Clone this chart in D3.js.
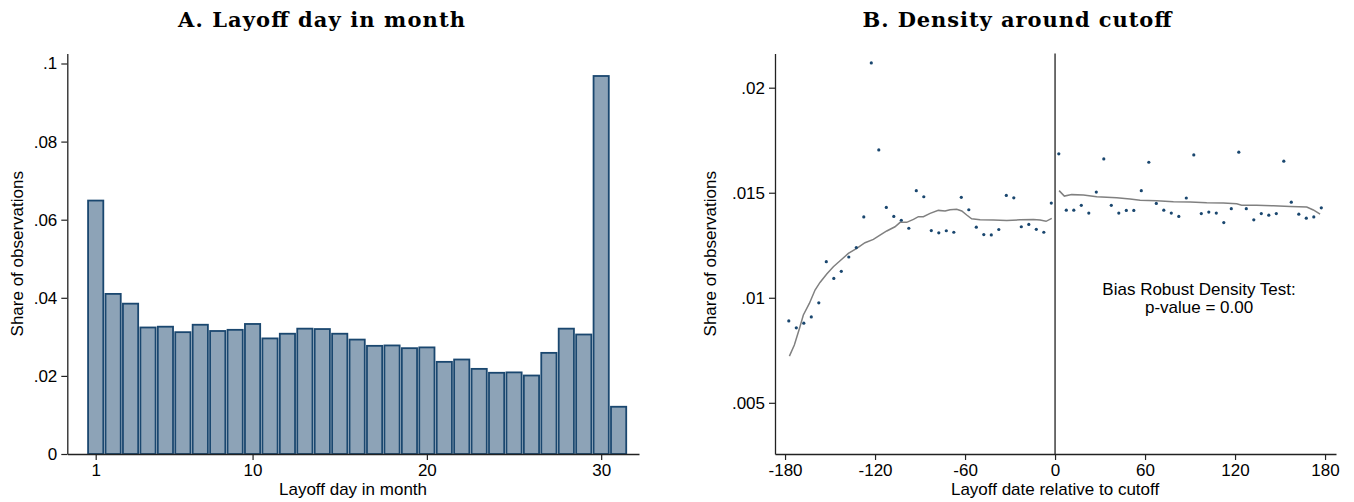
<!DOCTYPE html>
<html>
<head>
<meta charset="utf-8">
<script src="https://cdn.jsdelivr.net/npm/d3@7"></script>
<style>
  html, body { margin: 0; padding: 0; background: #fff; }
  svg { display: block; }
  .tick text { font-family: "Liberation Sans", Arial, sans-serif; font-size: 17px; fill: #000; }
  .tick line { stroke: #222; stroke-width: 1.2; }
  .domain { stroke: #222; stroke-width: 1.3; }
  .lbl { font-family: "Liberation Sans", Arial, sans-serif; font-size: 17px; fill: #000; }
  .ttl { font-family: "DejaVu Serif", "Liberation Serif", serif; font-weight: bold; font-size: 21px; fill: #000; }
</style>
</head>
<body>
<script>
// ---------- Panel A: share of layoffs by calendar day ----------
const days = [1,2,3,4,5,6,7,8,9,10,11,12,13,14,15,16,17,18,19,20,21,22,23,24,25,26,27,28,29,30,31];
const dayShare = [0.0649,0.0410,0.0385,0.0324,0.0326,0.0312,0.0331,0.0315,0.0318,0.0333,
                  0.0296,0.0308,0.0321,0.0320,0.0308,0.0293,0.0277,0.0278,0.0271,0.0273,
                  0.0236,0.0242,0.0218,0.0208,0.0209,0.0201,0.0259,0.0321,0.0306,0.0968,0.0121];
const dayTicks = [1, 10, 20, 30];
const shareTicksA = [0, 0.02, 0.04, 0.06, 0.08, 0.1];
const shareTickLabelsA = ["0", ".02", ".04", ".06", ".08", ".1"];

// ---------- Panel B: 5-day bins around the cutoff ----------
const binsBefore = [-177.5,-172.5,-167.5,-162.5,-157.5,-152.5,-147.5,-142.5,-137.5,-132.5,-127.5,-122.5,
                    -117.5,-112.5,-107.5,-102.5,-97.5,-92.5,-87.5,-82.5,-77.5,-72.5,-67.5,-62.5,
                    -57.5,-52.5,-47.5,-42.5,-37.5,-32.5,-27.5,-22.5,-17.5,-12.5,-7.5,-2.5];
const shareBefore = [0.00890,0.00857,0.00879,0.00909,0.00976,0.01172,0.01092,0.01126,0.01194,0.01239,0.01385,0.02118,
                     0.01704,0.01430,0.01387,0.01369,0.01331,0.01510,0.01481,0.01320,0.01309,0.01319,0.01312,0.01478,
                     0.01419,0.01336,0.01301,0.01299,0.01325,0.01487,0.01476,0.01338,0.01349,0.01326,0.01312,0.01451];
const binsAfter = [2.5,7.5,12.5,17.5,22.5,27.5,32.5,37.5,42.5,47.5,52.5,57.5,
                   62.5,67.5,72.5,77.5,82.5,87.5,92.5,97.5,102.5,107.5,112.5,117.5,
                   122.5,127.5,132.5,137.5,142.5,147.5,152.5,157.5,162.5,167.5,172.5,177.5];
const shareAfter = [0.01685,0.01417,0.01417,0.01440,0.01403,0.01503,0.01661,0.01440,0.01403,0.01416,0.01416,0.01510,
                    0.01645,0.01449,0.01417,0.01403,0.01387,0.01475,0.01680,0.01401,0.01408,0.01403,0.01358,0.01424,
                    0.01693,0.01424,0.01371,0.01401,0.01393,0.01401,0.01650,0.01455,0.01398,0.01379,0.01385,0.01428];

// Local polynomial density fits on each side of the cutoff
const fitBeforeX = [-177.1,-173.8,-170.4,-167.8,-163.8,-160,-156.7,-152.2,-147.8,-143.3,-137.8,-132.2,-126.7,
                    -121.1,-116.7,-112.2,-106.7,-103.3,-98.9,-94.4,-91.1,-87.8,-83.3,-77.8,-73.3,-70,-65.6,
                    -62.2,-58.9,-55.6,-50,-41.1,-32.2,-23.3,-14.4,-10,-6,-2.2];
const fitBeforeY = [0.00722,0.00775,0.00854,0.00918,0.00973,0.01037,0.01073,0.01113,0.01148,0.01176,0.01211,0.01235,0.01262,
                    0.01278,0.01298,0.01318,0.01338,0.01359,0.01359,0.01373,0.01386,0.01386,0.01402,0.01416,0.01413,0.01419,0.01421,
                    0.01413,0.01394,0.01376,0.01371,0.01370,0.01368,0.01371,0.01373,0.01370,0.01364,0.01378];
const fitAfterX = [2.7,6.2,11.1,18.9,27.8,41.1,50,56.7,67.8,78.9,90,101.1,112.2,121.1,124.4,134.4,145.6,156.7,167.8,172.2,176.7];
const fitAfterY = [0.01510,0.01484,0.01491,0.01489,0.01481,0.01476,0.01470,0.01464,0.01462,0.01457,0.01456,0.01452,
                   0.01451,0.01448,0.01441,0.01441,0.01438,0.01435,0.01432,0.01418,0.01398];

const dateTicks = [-180, -120, -60, 0, 60, 120, 180];
const shareTicksB = [0.005, 0.01, 0.015, 0.02];
const shareTickLabelsB = [".005", ".01", ".015", ".02"];

const testLines = ["Bias Robust Density Test:", "p-value = 0.00"];

// ---------- drawing ----------
const W = 1354, H = 502;
const navy = "rgb(26,71,111)";
const barFill = "rgb(141,163,183)";
const fitGray = "rgb(128,128,128)";
const plainInt = d => String(d);   // hyphen-minus, as in the printed figure

const svg = d3.select("body").append("svg")
  .attr("width", W).attr("height", H)
  .attr("viewBox", `0 0 ${W} ${H}`);
svg.append("rect").attr("width", W).attr("height", H).attr("fill", "#fff");

const plotTop = 53.5, plotBottom = 454;

// Panel A scales
const xA = d3.scaleLinear().domain([-0.629, 32.17]).range([67.3, 639]);
const yA = d3.scaleLinear().domain([0, 0.10256]).range([plotBottom, plotTop]);

const gA = svg.append("g");
const barW = xA(1) - xA(0);
gA.selectAll("rect.bar").data(days.map((d, i) => ({ d, v: dayShare[i] })))
  .join("rect").attr("class", "bar")
  .attr("x", p => xA(p.d - 0.5) + 1.1)
  .attr("width", barW - 2.2)
  .attr("y", p => yA(p.v))
  .attr("height", p => yA(0) - yA(p.v))
  .attr("fill", barFill)
  .attr("stroke", navy)
  .attr("stroke-width", 1.8);

gA.append("g").attr("transform", `translate(0,${plotBottom})`)
  .call(d3.axisBottom(xA).tickValues(dayTicks).tickFormat(plainInt)
        .tickSize(6).tickSizeOuter(0).tickPadding(4));
gA.append("g").attr("transform", `translate(${xA.range()[0]},0)`)
  .call(d3.axisLeft(yA).tickValues(shareTicksA).tickFormat((d, i) => shareTickLabelsA[i])
        .tickSize(6).tickSizeOuter(0).tickPadding(4));

gA.append("text").attr("class", "ttl")
  .attr("x", 321.5).attr("y", 27).attr("text-anchor", "middle")
  .attr("textLength", 287).attr("lengthAdjust", "spacing")
  .text("A. Layoff day in month");
gA.append("text").attr("class", "lbl")
  .attr("x", 353).attr("y", 495).attr("text-anchor", "middle")
  .text("Layoff day in month");
gA.append("text").attr("class", "lbl")
  .attr("transform", `translate(22.5,${(plotTop + plotBottom) / 2}) rotate(-90)`)
  .attr("text-anchor", "middle")
  .text("Share of observations");

// Panel B scales
const xB = d3.scaleLinear().domain([-186.7, 187.3]).range([775, 1336]);
const yB = d3.scaleLinear().domain([0.002563, 0.021628]).range([plotBottom, plotTop]);

const gB = svg.append("g");
gB.append("g").attr("transform", `translate(0,${plotBottom})`)
  .call(d3.axisBottom(xB).tickValues(dateTicks).tickFormat(plainInt)
        .tickSize(6).tickSizeOuter(0).tickPadding(4));
gB.append("g").attr("transform", `translate(${xB.range()[0]},0)`)
  .call(d3.axisLeft(yB).tickValues(shareTicksB).tickFormat((d, i) => shareTickLabelsB[i])
        .tickSize(6).tickSizeOuter(0).tickPadding(4));

// cutoff line
gB.append("line")
  .attr("x1", xB(0)).attr("x2", xB(0))
  .attr("y1", plotTop).attr("y2", plotBottom)
  .attr("stroke", "#222").attr("stroke-width", 1.3);

const fitLine = d3.line().x(p => xB(p[0])).y(p => yB(p[1]));
gB.append("path").datum(fitBeforeX.map((x, i) => [x, fitBeforeY[i]]))
  .attr("d", fitLine).attr("fill", "none").attr("stroke", fitGray).attr("stroke-width", 1.5);
gB.append("path").datum(fitAfterX.map((x, i) => [x, fitAfterY[i]]))
  .attr("d", fitLine).attr("fill", "none").attr("stroke", fitGray).attr("stroke-width", 1.5);

const pts = binsBefore.map((x, i) => [x, shareBefore[i]])
  .concat(binsAfter.map((x, i) => [x, shareAfter[i]]));
gB.selectAll("circle.pt").data(pts).join("circle").attr("class", "pt")
  .attr("cx", p => xB(p[0])).attr("cy", p => yB(p[1]))
  .attr("r", 1.6).attr("fill", navy);

gB.append("text").attr("class", "lbl")
  .attr("x", xB(96)).attr("y", 295).attr("text-anchor", "middle")
  .selectAll("tspan").data(testLines).join("tspan")
  .attr("x", xB(96)).attr("dy", (d, i) => i === 0 ? 0 : 17.5)
  .text(d => d);

gB.append("text").attr("class", "ttl")
  .attr("x", 1017).attr("y", 27).attr("text-anchor", "middle")
  .attr("textLength", 309).attr("lengthAdjust", "spacing")
  .text("B. Density around cutoff");
gB.append("text").attr("class", "lbl")
  .attr("x", xB(0)).attr("y", 495).attr("text-anchor", "middle")
  .text("Layoff date relative to cutoff");
gB.append("text").attr("class", "lbl")
  .attr("transform", `translate(716,${(plotTop + plotBottom) / 2}) rotate(-90)`)
  .attr("text-anchor", "middle")
  .text("Share of observations");
</script>
</body>
</html>
